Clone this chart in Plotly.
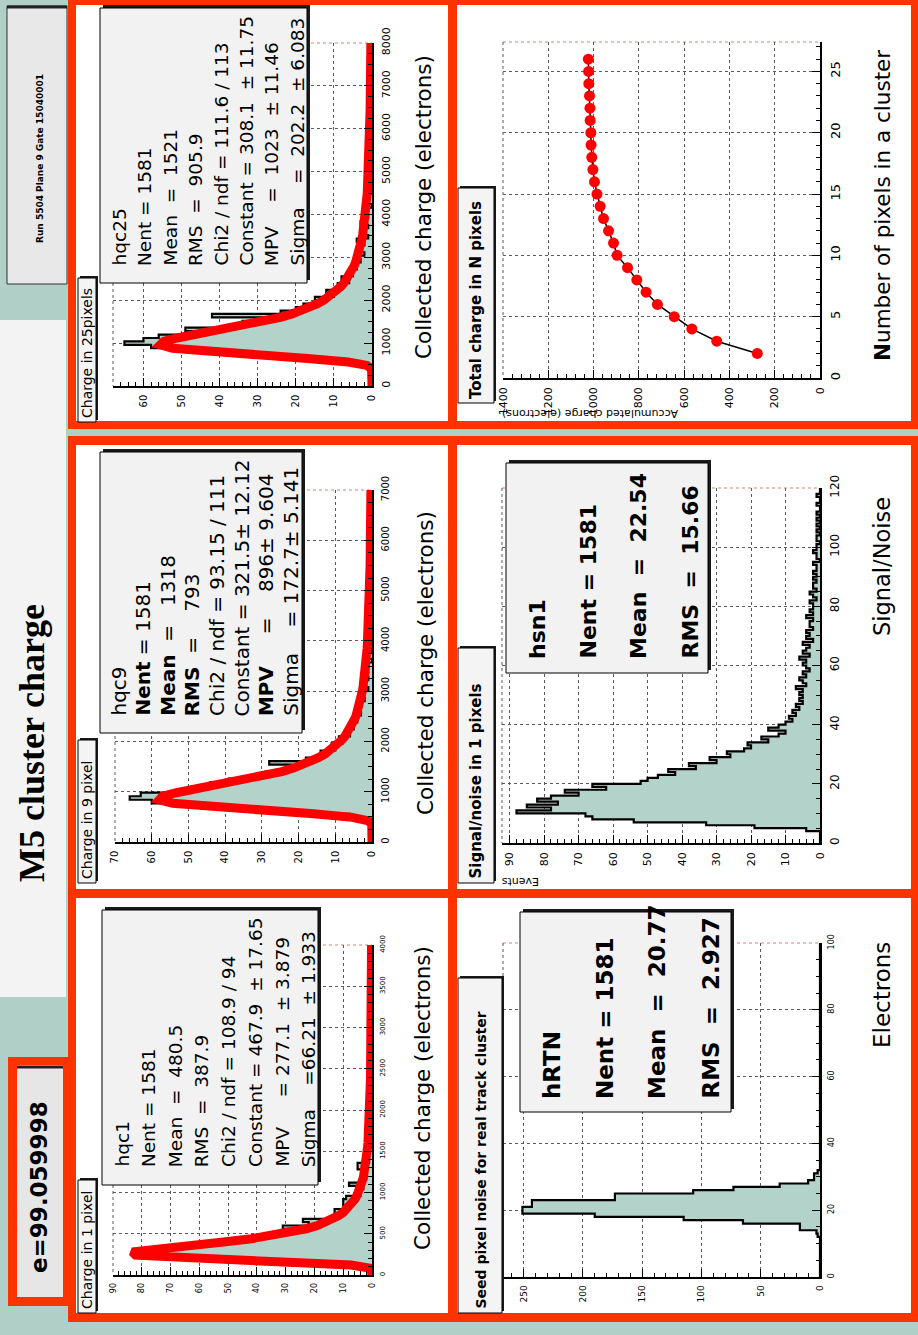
import numpy as np
import plotly.graph_objects as go

W, H = 918, 1335
SANS = "DejaVu Sans"
SERIF = "Liberation Serif"
HIST_FILL = "#b3d2c9"
PAGE_BG = "#b0cfc6"
PAD_RED = "#ff3300"
GRID = "#5a5a5a"

# ---------------- histogram contents (equal-width bins over each range) ----------------
hqc25_range = (0.0, 8000.0)
hqc25_counts = [0, 0, 0, 0, 0, 0, 2, 9, 24, 38,
                47, 58, 65, 60, 56, 47, 49, 37, 34, 27,
                42, 24, 20, 18, 13, 15, 10, 12, 8, 9,
                6, 8, 5, 6, 4, 5, 3, 4, 2, 4,
                3, 2, 4, 1, 3, 2, 1, 3, 2, 1,
                2, 1, 0, 2, 1, 1, 0, 2, 1, 0,
                1, 1, 0, 1, 0, 1, 0, 0, 1, 0,
                1, 0, 0, 1, 0, 0, 1, 0, 0, 0,
                1, 0, 0, 0, 1, 0, 0, 0, 0, 1,
                0, 0, 0, 1, 0, 0, 0, 0, 1, 0]
hqc25_fit = (308.1, 1023.0, 202.2)      # Constant, MPV, Sigma

hqc9_range = (0.0, 7000.0)
hqc9_counts = [0, 0, 0, 0, 0, 0, 1, 6, 22, 38,
               50, 60, 66, 63, 53, 46, 44, 39, 30, 29,
               24, 22, 28, 18, 13, 14, 10, 11, 8, 9,
               6, 7, 5, 6, 4, 5, 3, 4, 3, 4,
               2, 3, 2, 1, 2, 3, 1, 2, 1, 1,
               2, 0, 1, 1, 0, 1, 0, 1, 0, 1,
               0, 1, 0, 0, 1, 0, 0, 1, 0, 0,
               1, 0, 0, 0, 1, 0, 0, 0, 0, 1,
               0, 0, 1, 0, 0, 0, 0, 1, 0, 0,
               0, 0, 0, 1, 0, 0, 0, 0, 1, 0]
hqc9_fit = (321.5, 896.0, 172.7)

hqc1_range = (0.0, 4000.0)
hqc1_counts = [0, 0, 1, 14, 45, 74, 80, 78, 70, 58,
               47, 40, 33, 27, 31, 22, 24, 12, 13, 13,
               9, 10, 10, 9, 4, 5, 3, 8, 3, 2,
               3, 2, 5, 5, 1, 2, 1, 1, 2, 0,
               1, 1, 2, 1, 0, 1, 1, 0, 1, 0,
               1, 0, 1, 0, 0, 1, 0, 1, 0, 0,
               1, 0, 0, 1, 0, 0, 0, 1, 0, 0,
               0, 1, 0, 0, 0, 1, 0, 0, 0, 0,
               1, 0, 0, 0, 0, 1, 0, 0, 0, 0,
               0, 1, 0, 0, 0, 0, 1, 0, 0, 0]
hqc1_fit = (467.9, 277.1, 66.21)

hsn1_range = (0.0, 120.0)
hsn1_counts = [0, 0, 0, 0, 4, 19, 33, 54, 66, 68,
               88, 78, 85, 76, 82, 78, 70, 74, 62, 66,
               52, 50, 47, 42, 44, 36, 38, 30, 32, 26,
               27, 22, 20, 21, 15, 17, 12, 10, 15, 12,
               10, 8, 9, 7, 8, 6, 7, 5, 6, 5,
               6, 5, 7, 4, 5, 6, 4, 5, 3, 4,
               5, 4, 6, 3, 5, 4, 3, 5, 2, 4,
               3, 4, 2, 3, 3, 2, 4, 2, 3, 2,
               2, 3, 1, 2, 3, 1, 2, 2, 1, 2,
               1, 2, 1, 1, 2, 0, 1, 1, 2, 1,
               1, 0, 1, 1, 0, 1, 0, 1, 0, 1,
               0, 1, 0, 0, 1, 0, 0, 1, 0, 0]

hrtn_range = (0.0, 100.0)
hrtn_counts = [0] * 12 + [2, 3, 17, 17, 65, 115, 190, 251, 251, 243,
                          243, 173, 173, 107, 73, 34, 10, 5, 5, 2] + [0] * 68

# Most probable charge versus number of pixels summed in the cluster
cluster_pixels = [2, 3, 4, 5, 6, 7, 8, 9, 10, 11, 12, 13, 14, 15, 16, 17, 18,
                  19, 20, 21, 22, 23, 24, 25, 26]
cluster_charge = [277, 456, 566, 644, 718, 768, 809, 850, 896, 912, 934, 956, 971,
                  985, 996, 1003, 1008, 1011, 1012, 1015, 1016, 1018, 1021, 1022, 1023]

# ---------------- helpers ----------------
shapes, annotations, traces = [], [], []
axes_layout = {}


def px(x):
    return x / W


def py(y):
    return 1.0 - y / H


def rect(x0, y0, x1, y1, fill, line=None, lw=0, layer="below"):
    shapes.append(dict(type="rect", xref="paper", yref="paper",
                       x0=px(x0), x1=px(x1), y0=py(y1), y1=py(y0),
                       fillcolor=fill, layer=layer,
                       line=dict(color=line if line else fill, width=lw)))


def seg(x0, y0, x1, y1, color, width, dash="solid", layer="above"):
    shapes.append(dict(type="line", xref="paper", yref="paper",
                       x0=px(x0), x1=px(x1), y0=py(y0), y1=py(y1), layer=layer,
                       line=dict(color=color, width=width, dash=dash)))


def label(x, y, s, size, angle=-90, xa="center", ya="middle", weight="normal",
          family=SANS, color="black"):
    annotations.append(dict(x=px(x), y=py(y), xref="paper", yref="paper",
                            text=s.replace(" ", "\u00a0"), textangle=angle,
                            showarrow=False, xanchor=xa, yanchor=ya, borderpad=0,
                            font=dict(family=family, size=size, color=color,
                                      weight=weight)))


def box(x0, y0, x1, y1, fill="#f2f2f2", shadow=3):
    rect(x0 + shadow, y0 - shadow, x1 + shadow, y1 - shadow, "#1a1a1a", layer="above")
    rect(x0, y0, x1, y1, fill, line="black", lw=1, layer="above")


def make_axes(n, frame, xr, yr, xd, xminor, yd, yminor, xfs, yfs):
    x0, y0, x1, y1 = frame
    xname = "xaxis" if n == 1 else f"xaxis{n}"
    yname = "yaxis" if n == 1 else f"yaxis{n}"
    xref = "x" if n == 1 else f"x{n}"
    yref = "y" if n == 1 else f"y{n}"
    common = dict(showline=True, linecolor="black", linewidth=1.5, ticks="inside",
                  ticklen=8, tickwidth=1, tickcolor="black", tickangle=-90,
                  showgrid=True, gridcolor=GRID, griddash="dot", gridwidth=1,
                  zeroline=False, automargin=False, fixedrange=True,
                  ticklabelstandoff=3, tick0=0)
    axes_layout[xname] = dict(common, domain=[px(x0), px(x1)], range=list(xr),
                              anchor=yref, side="bottom", dtick=xd,
                              minor=dict(ticks="inside", ticklen=4, dtick=xminor,
                                         tickcolor="black", showgrid=False),
                              tickfont=dict(family=SANS, size=xfs, color="black"))
    axes_layout[yname] = dict(common, domain=[py(y1), py(y0)], range=list(yr),
                              anchor=xref, side="right", dtick=yd,
                              minor=dict(ticks="inside", ticklen=4, dtick=yminor,
                                         tickcolor="black", showgrid=False),
                              tickfont=dict(family=SANS, size=yfs, color="black"))
    # upper and far edges of the frame
    seg(x0, y0, x1, y0, "#d98080", 1.2, "dot", layer="below")
    seg(x0, y0, x0, y1, GRID, 1, "dot", layer="below")
    return xref, yref


def step_outline(lo, hi, counts):
    edges = np.linspace(lo, hi, len(counts) + 1)
    xs, ys = [0.0], [edges[0]]
    for i, c in enumerate(counts):
        xs += [c, c]
        ys += [edges[i], edges[i + 1]]
    xs.append(0.0)
    ys.append(edges[-1])
    return xs, ys


# Landau density: (1/pi) * int_0^inf exp(-pi t / 2) cos(t ln t + lambda t) dt
_t = np.linspace(1e-7, 25.0, 25001)
_damp = np.exp(-np.pi * _t / 2.0)
_tlogt = _t * np.log(_t)


def landau(lam):
    return np.array([np.trapezoid(_damp * np.cos(_tlogt + l * _t), _t) / np.pi
                     for l in np.atleast_1d(lam)])


def hist_traces(xref, yref, rng, counts, fit=None):
    xs, ys = step_outline(rng[0], rng[1], counts)
    traces.append(go.Scatter(x=xs, y=ys, mode="lines", fill="tozerox",
                             fillcolor=HIST_FILL, line=dict(color="black", width=2.2),
                             xaxis=xref, yaxis=yref, hoverinfo="skip"))
    if fit is not None:
        const, mpv, sigma = fit
        q = np.linspace(rng[0], rng[1], 101)
        f = const * landau((q - mpv) / sigma)
        traces.append(go.Scatter(x=f, y=q, mode="lines",
                                 line=dict(color="red", width=9),
                                 xaxis=xref, yaxis=yref, hoverinfo="skip"))


# ---------------- canvas background ----------------
rect(0, 320, 66, 997, "#f3f3f3")                       # title strip
rect(7, 6, 67, 284, "#e8e8e8", line="#333", lw=1)       # run info box
seg(7, 7, 67, 7, "#222", 3, layer="below")
rect(8, 1057, 68, 1306, PAD_RED)                       # efficiency box
rect(17, 1065, 63, 1297, "#e6e6e6")
seg(17, 1067, 63, 1067, "#222", 3, layer="below")

# pads: red frame with white interior
pads = [((68, 0, 458, 429), (76, 5, 448, 421)),
        ((68, 436, 458, 897), (76, 445, 448, 889)),
        ((68, 890, 458, 1322), (76, 898, 448, 1313)),
        ((449, 0, 918, 429), (457, 5, 911, 421)),
        ((449, 436, 918, 897), (457, 445, 911, 889)),
        ((449, 890, 918, 1322), (457, 898, 911, 1313))]
for outer, inner in pads:
    rect(*outer, PAD_RED)
    rect(*inner, "white")

# ---------------- plots ----------------
xr1, yr1 = make_axes(1, (113, 43, 372, 386), (68, 0), hqc25_range, 10, 2, 1000, 250, 10, 11)
hist_traces(xr1, yr1, hqc25_range, hqc25_counts, hqc25_fit)

xr2, yr2 = make_axes(2, (115, 490, 372, 842), (70, 0), hqc9_range, 10, 2, 1000, 250, 10, 10)
hist_traces(xr2, yr2, hqc9_range, hqc9_counts, hqc9_fit)

xr3, yr3 = make_axes(3, (113, 945, 372, 1275), (90, 0), hqc1_range, 10, 2, 500, 100, 8, 7)
hist_traces(xr3, yr3, hqc1_range, hqc1_counts, hqc1_fit)

xr4, yr4 = make_axes(4, (503, 42, 820, 378), (1400, 0), (0, 27.4), 200, 40, 5, 1, 11, 13)
traces.append(go.Scatter(x=cluster_charge, y=cluster_pixels, mode="lines+markers",
                         line=dict(color="black", width=1.5),
                         marker=dict(color="red", size=11, line=dict(width=0)),
                         xaxis=xr4, yaxis=yr4, hoverinfo="skip"))

xr5, yr5 = make_axes(5, (502, 488, 820, 843), (92.2, 0), hsn1_range, 10, 2, 20, 5, 11, 12)
hist_traces(xr5, yr5, hsn1_range, hsn1_counts)

xr6, yr6 = make_axes(6, (503, 943, 820, 1277), (267.4, 0), hrtn_range, 50, 10, 20, 5, 9, 8)
hist_traces(xr6, yr6, hrtn_range, hrtn_counts)

# ---------------- title boxes ----------------
for (x0, y0, x1, y1) in [(78, 278, 96, 422), (78, 740, 96, 883), (78, 1180, 96, 1313),
                         (458, 188, 494, 403), (458, 648, 494, 883), (458, 978, 502, 1313)]:
    box(x0, y0, x1, y1, fill="#f4f4f4", shadow=2)

label(87, 419, "Charge in 25pixels", 14, ya="bottom")
label(87, 880, "Charge in 9 pixel", 14, ya="bottom")
label(87, 1310, "Charge in 1 pixel", 14, ya="bottom")
label(476, 400, "Total charge in N pixels", 15, ya="bottom", weight="bold")
label(476, 880, "Signal/noise in 1 pixels", 15, ya="bottom", weight="bold")
label(480, 1310, "Seed pixel noise for real track cluster", 14, ya="bottom", weight="bold")

# ---------------- statistics boxes ----------------
box(100, 8, 307, 283)
box(100, 452, 302, 733)
box(102, 910, 318, 1185)
box(506, 463, 708, 673)
box(520, 912, 731, 1112)

stats_hqc25 = ["hqc25", "Nent = 1581", "Mean  =  1521", "RMS  =  905.9",
               "Chi2 / ndf = 111.6 / 113", "Constant = 308.1  ± 11.75",
               "MPV    =  1023  ± 11.46", "Sigma    =  202.2  ± 6.083"]
stats_hqc9 = ["hqc9", "<b>Nent</b> = 1581", "<b>Mean</b>  =   1318", "<b>RMS</b>  =    793",
              "Chi2 / ndf = 93.15 / 111", "Constant = 321.5± 12.12",
              "<b>MPV</b>     =    896± 9.604", "Sigma    = 172.7± 5.141"]
stats_hqc1 = ["hqc1", "Nent = 1581", "Mean  =  480.5", "RMS  =  387.9",
              "Chi2 / ndf = 108.9 / 94", "Constant = 467.9  ± 17.65",
              "MPV     = 277.1  ± 3.879", "Sigma    =66.21  ± 1.933"]
stats_hsn1 = ["hsn1", "Nent = 1581", "Mean  =  22.54", "RMS  =  15.66"]
stats_hrtn = ["hRTN", "Nent = 1581", "Mean  =  20.77", "RMS  =  2.927"]

for i, s in enumerate(stats_hqc25):
    label(119 + 25.5 * i, 267, s, 18.5, ya="bottom")
for i, s in enumerate(stats_hqc9):
    label(118 + 24.6 * i, 717, s, 20, ya="bottom")
for i, s in enumerate(stats_hqc1):
    label(122 + 26.6 * i, 1168, s, 18.5, ya="bottom")
for xc, s in zip([537, 588, 638, 690], stats_hsn1):
    label(xc, 660, s, 22, ya="bottom", weight="bold")
for xc, s in zip([552, 605, 657, 710], stats_hrtn):
    label(xc, 1100, s, 23, ya="bottom", weight="bold")

# ---------------- axis titles ----------------
label(423, 207, "Collected charge (electrons)", 21.5)
label(425, 663, "Collected charge (electrons)", 21.5)
label(422, 1098, "Collected charge (electrons)", 21.5)
label(882, 206, "<b>N</b>umber of pixels in a cluster", 21.5)
label(590, 414, "Accumulated charge (electrons)", 11, angle=180)
label(882, 567, "Signal/Noise", 22.5)
label(520, 882, "Events", 11, angle=180)
label(882, 995, "Electrons", 23)

# ---------------- canvas texts ----------------
label(40, 159, "Run 5504 Plane 9 Gate 15040001", 9, weight="bold")
label(32, 743, "M5 cluster charge", 36, family=SERIF, weight="bold")
label(39, 1187, "e=99.059998", 23, weight="bold")

fig = go.Figure(data=traces)
fig.update_layout(template="none", width=W, height=H,
                  margin=dict(l=0, r=0, t=0, b=0),
                  paper_bgcolor=PAGE_BG, plot_bgcolor="rgba(0,0,0,0)",
                  showlegend=False, shapes=shapes, annotations=annotations,
                  font=dict(family=SANS, color="black"), **axes_layout)
fig.write_html("out.html", config={"displayModeBar": False},
               post_script="document.body.style.margin='0';")
